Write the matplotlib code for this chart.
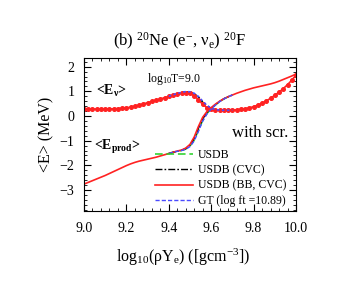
import numpy as np
import matplotlib
matplotlib.use("Agg")
import matplotlib.pyplot as plt
from matplotlib.ticker import MultipleLocator

plt.rcParams['font.family'] = ['Liberation Serif', 'DejaVu Serif']
plt.rcParams['mathtext.fontset'] = 'custom'
plt.rcParams['mathtext.rm'] = 'Liberation Serif'
plt.rcParams['mathtext.it'] = 'Liberation Serif:italic'
plt.rcParams['mathtext.bf'] = 'Liberation Serif:bold'

# log10(rho Ye) grid of the red (BB, CVC) curves
rho = np.round(np.arange(9.0, 10.001, 0.02), 2)

# <E_nu>, USDB (BB, CVC)
enu_bb = [0.28, 0.28, 0.28, 0.28, 0.28, 0.28, 0.29, 0.29, 0.30, 0.31,
          0.33, 0.36, 0.40, 0.44, 0.49, 0.54, 0.59, 0.64, 0.69, 0.74,
          0.79, 0.84, 0.88, 0.92, 0.94, 0.92, 0.82, 0.66, 0.47, 0.34,
          0.27, 0.24, 0.23, 0.23, 0.23, 0.24, 0.25, 0.27, 0.29, 0.33,
          0.38, 0.44, 0.52, 0.61, 0.72, 0.84, 0.97, 1.11, 1.27, 1.45, 1.66]
# <E_prod>, USDB (BB, CVC)
eprod_bb = [-2.76, -2.69, -2.62, -2.55, -2.48, -2.41, -2.33, -2.25, -2.17, -2.09,
            -2.01, -1.94, -1.88, -1.83, -1.79, -1.75, -1.71, -1.67, -1.62, -1.57,
            -1.52, -1.47, -1.42, -1.38, -1.30, -1.15, -0.85, -0.42, -0.05, 0.18,
            0.34, 0.48, 0.60, 0.70, 0.78, 0.85, 0.92, 0.98, 1.04, 1.09,
            1.14, 1.18, 1.22, 1.26, 1.30, 1.35, 1.41, 1.48, 1.55, 1.62, 1.70]

# the other calculations only part from the red one around the threshold
rho_t = [9.40, 9.42, 9.44, 9.46, 9.48, 9.50, 9.52, 9.54, 9.56, 9.58,
         9.60, 9.62, 9.64, 9.66, 9.68, 9.70]
enu_usdb = [0.79, 0.84, 0.89, 0.93, 0.96, 0.95, 0.88, 0.74, 0.56, 0.40,
            0.30, 0.25, 0.23, 0.23, 0.23, 0.24]
enu_cvc = [0.80, 0.85, 0.90, 0.95, 0.98, 0.97, 0.90, 0.76, 0.57, 0.41,
           0.30, 0.25, 0.23, 0.23, 0.23, 0.24]
enu_gt = [0.80, 0.86, 0.91, 0.96, 0.99, 0.98, 0.92, 0.79, 0.60, 0.43,
          0.32, 0.26, 0.24, 0.23, 0.23, 0.24]
eprod_usdb = [-1.52, -1.47, -1.43, -1.40, -1.34, -1.22, -0.98, -0.58, -0.18, 0.10,
              0.29, 0.45, 0.58, 0.69, 0.78, 0.85]
eprod_cvc = [-1.52, -1.47, -1.43, -1.39, -1.32, -1.18, -0.91, -0.50, -0.12, 0.14,
             0.31, 0.46, 0.59, 0.70, 0.78, 0.85]
eprod_gt = [-1.52, -1.47, -1.43, -1.40, -1.35, -1.24, -1.01, -0.62, -0.21, 0.08,
            0.28, 0.44, 0.58, 0.69, 0.78, 0.85]

labels = ["USDB", "USDB (CVC)", "USDB (BB, CVC)", "GT (log ft =10.89)"]

fig = plt.figure(figsize=(3.38, 2.95), dpi=100)
ax = fig.add_axes([0.2485, 0.2847, 0.6272, 0.5187])

green = '#22d022'
red = '#ff2222'
blue = '#4a4aff'

ax.plot(rho_t, eprod_usdb, color=green, ls=(0, (5, 2.5)), lw=1.1, label=labels[0])
ax.plot(rho_t, enu_usdb, color=green, ls=(0, (5, 2.5)), lw=1.1)
ax.plot(rho_t, eprod_cvc, color='black', ls=(0, (5, 1.5, 1.2, 1.5)), lw=1.0, label=labels[1])
ax.plot(rho_t, enu_cvc, color='black', ls=(0, (1.2, 1.5)), lw=1.2)
ax.plot(rho, eprod_bb, color=red, lw=1.2, label=labels[2])
ax.plot(rho, enu_bb, color=red, lw=1.2, marker='o', ms=2.6, mec=red)
ax.plot(rho_t, eprod_gt, color=blue, ls=(0, (3, 1.5)), lw=1.0, label=labels[3])
ax.plot(rho_t, enu_gt, color=blue, ls=(0, (1.5, 1.5)), lw=1.2)

ax.set_xlim(9.0, 10.0)
ax.set_ylim(-3.85, 2.35)
ax.xaxis.set_major_locator(MultipleLocator(0.2))
ax.xaxis.set_minor_locator(MultipleLocator(0.04))
ax.yaxis.set_major_locator(MultipleLocator(1))
ax.yaxis.set_minor_locator(MultipleLocator(0.2))
ax.set_xticks([9.0, 9.2, 9.4, 9.6, 9.8, 10.0])
ax.set_xticklabels(["9.0", "9.2", "9.4", "9.6", "9.8", "10.0"])
ax.tick_params(which='both', direction='in', top=True, right=True, labelsize=10)
ax.tick_params(axis='x', pad=8)
ax.tick_params(axis='y', pad=7)
ax.tick_params(which='major', length=5, width=0.8)
ax.tick_params(which='minor', length=2.5, width=0.6)
for s in ax.spines.values():
    s.set_linewidth(0.8)

ax.set_xlabel(r'log$_{10}$(ρY$_{\mathrm{e}}$) ([gcm$^{-3}$])', fontsize=11.5)
ax.xaxis.set_label_coords(0.467, -0.235)
ax.set_ylabel('<E> (MeV)', fontsize=11.5)
ax.yaxis.set_label_coords(-0.14, 0.5)

fig.text(0.533, 0.858, r'(b) $^{20}$Ne (e$^{-}$, ν$_{\mathrm{e}}$) $^{20}$F',
         ha='center', va='center', fontsize=12)

ax.text(9.055, 1.02, r'<E$_{\mathbf{\nu}}$>', fontsize=10, fontweight='bold', va='center')
ax.text(9.045, -1.25, r'<E$_{\mathbf{prod}}$>', fontsize=10, fontweight='bold', va='center')
ax.text(9.297, 1.5, r'log$_{10}$T=9.0', fontsize=8.5, va='center')
ax.text(9.962, -0.67, 'with scr.', fontsize=12, ha='right', va='center')

ax.legend(loc='upper left', bbox_to_anchor=(0.335, 0.405), frameon=False, fontsize=8.5,
          handlelength=3.2, handletextpad=0.45, labelspacing=0.28,
          borderpad=0, borderaxespad=0)

fig.savefig("out.png", dpi=100)
